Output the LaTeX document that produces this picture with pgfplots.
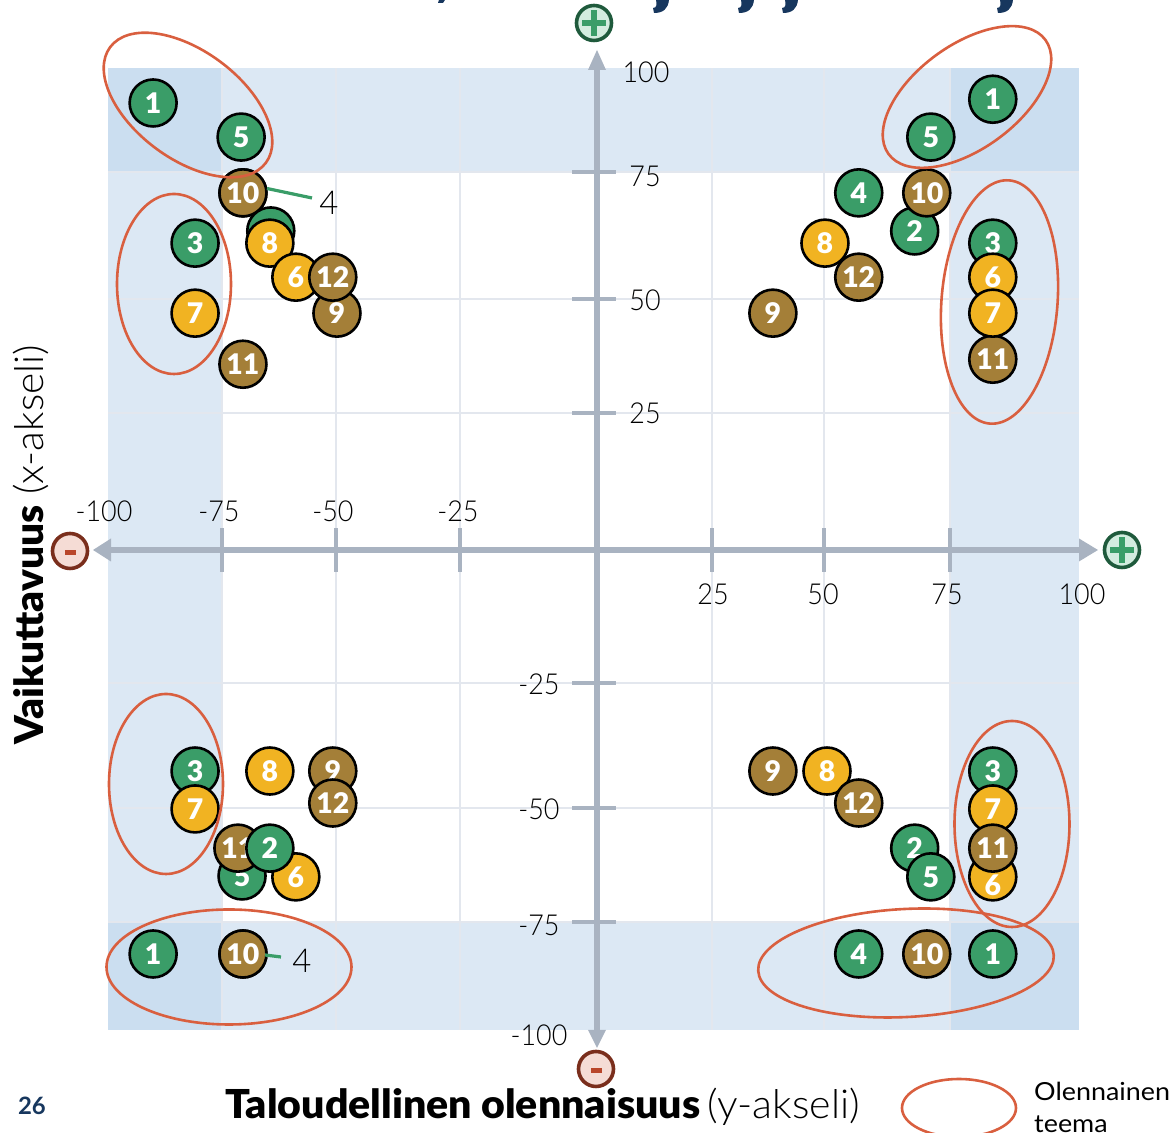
\documentclass[border=0pt]{standalone}
\usepackage{fontspec}
\setmainfont{Lato}
\newfontfamily\latoblack{Lato Black}
\newfontfamily\latolight{Lato Light}
\usepackage{pgfplots}
\pgfplotsset{compat=1.18}
\definecolor{bandc}{HTML}{DCE8F4}
\definecolor{bandd}{HTML}{CBDEF0}
\definecolor{gridc}{HTML}{E3E7EE}
\definecolor{axisc}{HTML}{A9B3C1}
\definecolor{grn}{HTML}{3A9D68}
\definecolor{yel}{HTML}{F1B322}
\definecolor{brn}{HTML}{A47F38}
\definecolor{redl}{HTML}{D95F3F}
\definecolor{navy}{HTML}{17375E}
\definecolor{grnd}{HTML}{1F5A3C}
\definecolor{grnf}{HTML}{D3ECDF}
\definecolor{redd}{HTML}{7A2E1C}
\definecolor{redf}{HTML}{F5DCD5}
\definecolor{redm}{HTML}{B9462A}
\pgfplotsset{
  pt/.style={only marks, mark=*, mark size=23.5bp,
    mark options={fill=#1,draw=black,line width=2.6bp},
    point meta=explicit symbolic, nodes near coords,
    nodes near coords style={anchor=center,inner sep=0pt,text=white,
      font=\latoblack\fontsize{28.5}{30}\selectfont}},
}
\newcommand\pnt[4]{\addplot[pt=#1] coordinates {(#2,#3) [#4]};}
\newcommand\pntlow[4]{\addplot[pt=#1,nodes near coords style={yshift=-8bp}] coordinates {(#2,#3) [#4]};}
\newcommand\band[5]{\addplot[draw=none,fill=#1] coordinates {(#2,#4)(#3,#4)(#3,#5)(#2,#5)} --cycle;}
\newcommand\gridv[1]{\addplot[gridc,line width=1.6bp] coordinates {(#1,-100)(#1,100)};}
\newcommand\gridh[1]{\addplot[gridc,line width=1.6bp] coordinates {(-100,#1)(100,#1)};}
\begin{document}
\begin{tikzpicture}
\useasboundingbox (0,0) rectangle (1176bp,1133bp);
\begin{axis}[
  at={(0,0)},anchor=south west,
  scale only axis,width=1176bp,height=1133bp,
  clip=false,axis on top,
  axis lines=middle,axis line style={draw=none},
  x coord trafo/.code={\pgfmathparse{(#1<-75)?(108+(#1+100)*4.56-597):((#1<-50)?(222+(#1+75)*4.56-597):((#1<-25)?(336+(#1+50)*4.96-597):((#1<0)?(460+(#1+25)*5.48-597):((#1<25)?(#1*4.6):((#1<50)?(712+(#1-25)*4.48-597):((#1<75)?(824+(#1-50)*5.04-597):(950+(#1-75)*5.16-597)))))))}},
  y coord trafo/.code={\pgfmathparse{(#1>75)?(549-172+(#1-75)*4.16):((#1>50)?(549-299+(#1-50)*5.08):((#1>25)?(549-413+(#1-25)*4.56):((#1>0)?(#1*5.44):((#1>-25)?(#1*5.36):((#1>-50)?(549-683+(#1+25)*5):((#1>-75)?(549-808+(#1+50)*4.56):(549-922+(#1+75)*4.32)))))))}},
  xmin=-123.68,xmax=118.8,ymin=-123.84,ymax=116.35,
  xtick={-75,-50,-25,25,50,75},ytick={-75,-50,-25,25,50,75},
  xticklabels={},yticklabels={},
  tick align=center,major tick length=44bp,
  tick style={axisc,line width=3.2bp},
  y tick style={xshift=-2.5bp},
  x tick style={yshift=-0.5bp},
]
% bands
\band{bandc}{-100}{100}{75}{100}
\band{bandc}{-100}{100}{-100}{-75}
\band{bandc}{-100}{-75}{-75}{75}
\band{bandc}{75}{100}{-75}{75}
\band{bandd}{-100}{-75}{75}{100}
\band{bandd}{75}{100}{75}{100}
\band{bandd}{-100}{-75}{-100}{-75}
\band{bandd}{75}{100}{-100}{-75}
% grid
\gridv{-75}\gridv{-50}\gridv{-25}\gridv{25}\gridv{50}\gridv{75}
\gridh{-75}\gridh{-50}\gridh{-25}\gridh{25}\gridh{50}\gridh{75}
% top left
\pnt{grn}{-90.1}{91.6}{1}
\pnt{grn}{-70.8}{83.4}{5}
\pnt{grn}{-70.4}{70.9}{4}
\pnt{brn}{-70.4}{70.9}{10}
\pnt{grn}{-64.3}{63.4}{2}
\pnt{grn}{-80.9}{61}{3}
\pnt{yel}{-64.5}{61}{8}
\pnt{yel}{-58.8}{54.3}{6}
\pnt{brn}{-49.8}{46.9}{9}
\pnt{brn}{-50.7}{54.3}{12}
\pnt{yel}{-80.9}{46.9}{7}
\pnt{brn}{-70.4}{35.7}{11}
% top right
\pnt{grn}{83.3}{92.5}{1}
\pnt{grn}{71.2}{83.4}{5}
\pnt{grn}{56.9}{70.9}{4}
\pnt{grn}{68}{63.4}{2}
\pnt{brn}{70.4}{70.9}{10}
\pnt{yel}{50.2}{61}{8}
\pnt{brn}{56.9}{54.3}{12}
\pnt{brn}{38.6}{46.9}{9}
\pnt{grn}{83.3}{61}{3}
\pnt{yel}{83.3}{54.3}{6}
\pnt{brn}{83.3}{36.8}{11}
\pnt{yel}{83.3}{46.9}{7}
% bottom left
\pnt{grn}{-80.9}{-42.6}{3}
\pnt{yel}{-80.9}{-50.2}{7}
\pnt{yel}{-64.5}{-42.6}{8}
\pnt{brn}{-50.7}{-42.6}{9}
\pnt{brn}{-50.7}{-49}{12}
\pnt{grn}{-70.6}{-64.9}{5}
\pnt{brn}{-71.5}{-58.8}{11}
\pnt{yel}{-58.8}{-65.1}{6}
\pnt{grn}{-64.5}{-58.8}{2}
\pnt{grn}{-90.1}{-82.4}{1}
\pnt{grn}{-70.4}{-82.4}{4}
\pnt{brn}{-70.4}{-82.4}{10}
% bottom right
\pnt{brn}{38.6}{-42.6}{9}
\pnt{yel}{50.6}{-42.6}{8}
\pnt{brn}{56.9}{-49}{12}
\pnt{grn}{68}{-58.8}{2}
\pnt{grn}{71.2}{-65.1}{5}
\pnt{grn}{83.3}{-42.6}{3}
\pnt{yel}{83.3}{-50.2}{7}
\pntlow{yel}{83.3}{-65.1}{6}
\pnt{brn}{83.3}{-58.8}{11}
\pnt{grn}{56.9}{-82.4}{4}
\pnt{brn}{70.4}{-82.4}{10}
\pnt{grn}{83.3}{-82.4}{1}
\end{axis}
\begin{scope}[x=1bp,y=-1bp,shift={(0,1133bp)}]
% axes
\draw[axisc,line width=6bp] (105,550)--(1082,550);
\draw[axisc,line width=6bp] (597,65)--(597,1033);
\fill[axisc] (93,550)--(111,538.5)--(111,561.5)--cycle;
\fill[axisc] (1098,550)--(1079,538.5)--(1079,561.5)--cycle;
\fill[axisc] (597,50)--(588,70)--(606,70)--cycle;
\fill[axisc] (597,1048)--(588,1030)--(606,1030)--cycle;
% plus / minus badges
\foreach \cx/\cy in {594/23,1122/550}{
  \draw[draw=grnd,fill=grnf,line width=3.6bp] (\cx,\cy) circle[radius=17.5bp];
  \fill[grn] (\cx-12,\cy-3)rectangle(\cx+12,\cy+3);
  \fill[grn] (\cx-3,\cy-13)rectangle(\cx+3,\cy+13);
}
\foreach \cx/\cy in {70/551,596/1069}{
  \draw[draw=redd,fill=redf,line width=3.6bp] (\cx,\cy) circle[radius=17.5bp];
  \fill[redm] (\cx-5.5,\cy-0.5)rectangle(\cx+5.5,\cy+4.5);
}
% callouts
\draw[grn,line width=3.2bp] (267,188.5)--(312,198);
\draw[grn,line width=3.2bp] (265,955)--(281,957);
\node[font=\latolight\fontsize{33}{34}\selectfont,inner sep=0pt] at (329,203) {4};
\node[font=\latolight\fontsize{33}{34}\selectfont,inner sep=0pt] at (302,961) {4};
% tick labels
\foreach \lx/\ly/\t in {104/511/-100,219/511/-75,333/511/-50,458/511/-25,713/594/25,823/594/50,947/594/75,1082/594/100,646/72/100,645/176/75,645/300/50,645/413/25,539/684/-25,539/809/-50,539/925/-75,539/1035/-100}{
  \node[font=\latolight\fontsize{29}{30}\selectfont,inner sep=0pt,xscale=0.93] at (\lx,\ly) {\t};
}
% ellipses
\begin{scope}[redl,line width=2.6bp]
\draw (188,105) ellipse[x radius=97bp,y radius=54bp,rotate=-36.6];
\draw (174,284) ellipse[x radius=57bp,y radius=90bp];
\draw (967,97) ellipse[x radius=97bp,y radius=52bp,rotate=36];
\draw (999.5,302) ellipse[x radius=58bp,y radius=122bp,rotate=-4.5];
\draw (166,784) ellipse[x radius=57bp,y radius=90bp];
\draw (229,967) ellipse[x radius=122.5bp,y radius=57.5bp];
\draw (1012,824) ellipse[x radius=57.5bp,y radius=103bp];
\draw (906,963) ellipse[x radius=148bp,y radius=54bp,rotate=3];
\draw (959,1108) ellipse[x radius=57bp,y radius=29bp];
\end{scope}
% axis titles
\node[rotate=90,inner sep=0pt,anchor=center,xscale=1.02] at (31,545) {\fontsize{40}{44}\selectfont{\latoblack Vaikuttavuus} {\latolight (x-akseli)}};
\node[inner sep=0pt,anchor=west,xscale=1.03] at (225,1107) {\fontsize{40}{44}\selectfont{\latoblack Taloudellinen olennaisuus}\,{\latolight (y-akseli)}};
\node[text=navy,font=\bfseries\fontsize{24}{26}\selectfont,inner sep=0pt] at (32,1106) {26};
\node[anchor=west,inner sep=0pt,xscale=1.08,font=\fontsize{25}{27}\selectfont] at (1034,1091) {Olennainen};
\node[anchor=west,inner sep=0pt,xscale=1.08,font=\fontsize{25}{27}\selectfont] at (1034,1124) {teema};
% clipped title descenders
\foreach \dx in {662,747,791,1006}{
  \fill[navy] (\dx-6,0)--(\dx+7,0)..controls (\dx+6,9)and(\dx+1,13)..(\dx-8,13)--(\dx-9,8)..controls (\dx-5,8)and(\dx-5,4)..cycle;
}
\fill[navy] (439,0)--(445,0)--(443,3)--(438,3)--cycle;
\end{scope}
\end{tikzpicture}
\end{document}
